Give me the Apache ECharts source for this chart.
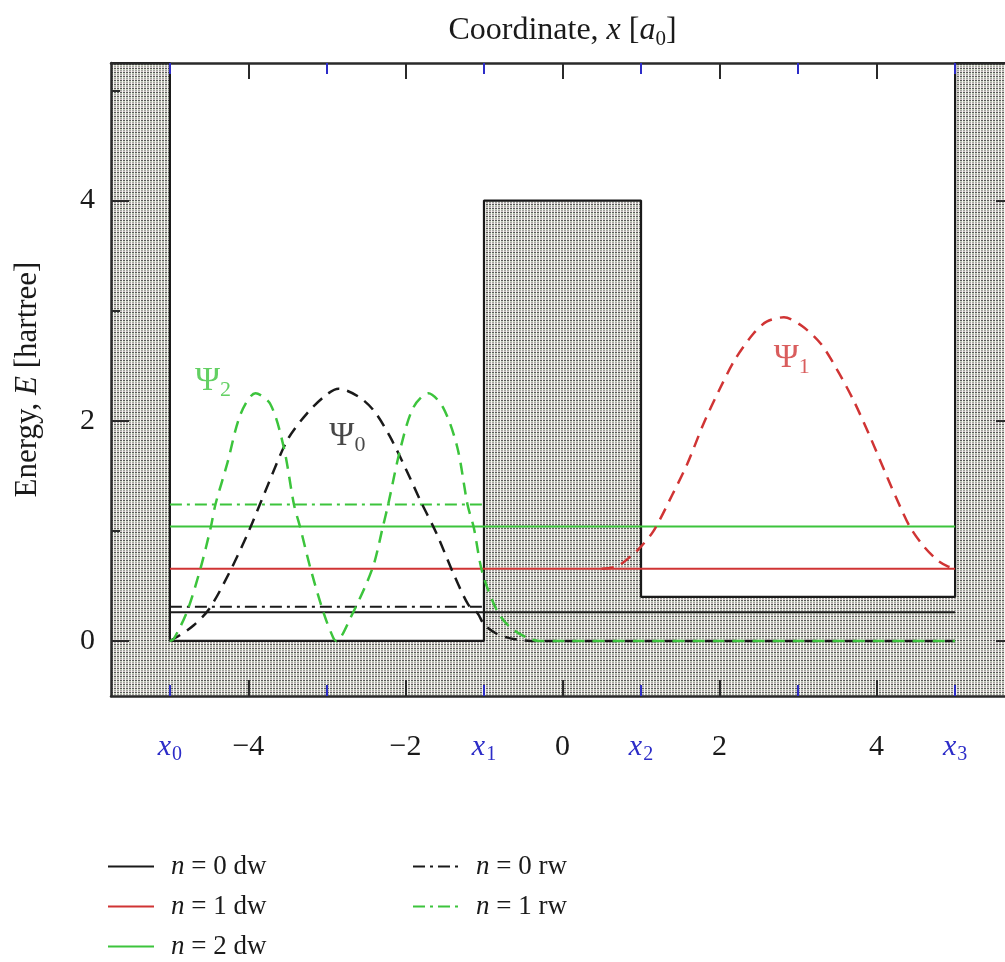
<!DOCTYPE html>
<html><head><meta charset="utf-8">
<script src="https://cdn.jsdelivr.net/npm/echarts@6/dist/echarts.min.js"></script>
<style>html,body{margin:0;padding:0;background:#fff}#c{width:1005px;height:962px}</style>
</head><body><div id="c"></div>
<script>
// ---------- data ----------
const xRange = [-5.75, 5.75];
const yRange = [-0.5, 5.25];
// potential profile (walls at x0..x3)
const potentialX = [-5.75, -5, -5, -1, -1, 1, 1, 5, 5, 5.75];
const potentialY = [5.25, 5.25, 0, 0, 4, 4, 0.4, 0.4, 5.25, 5.25];
// edges x0..x3
const edgeValues = [-5, -1, 1, 5];
const evenTicks = [-4, -2, 0, 2, 4];
const oddTicks = [-5, -3, -1, 1, 3, 5];
const xLabelValues = [-5, -4, -2, -1, 0, 1, 2, 4, 5];
const yMajor = [0, 2, 4];
const yMinor = [1, 3, 5];
// energy levels
const levelNames = ['n = 0 dw', 'n = 1 dw', 'n = 2 dw', 'n = 0 rw', 'n = 1 rw'];
const levelE = [0.26, 0.655, 1.04, 0.31, 1.24];
const levelFrom = [-5, -5, -5, -5, -5];
const levelTo = [5, 5, 5, -1, -1];
// wavefunctions
const psi0X = [-5.0, -4.9, -4.7, -4.5, -4.25, -4.0, -3.75, -3.5, -3.25, -3.0, -2.85, -2.6, -2.4, -2.2, -2.0, -1.8, -1.6, -1.4, -1.2, -1.08, -1.0, -0.85, -0.7, -0.55, -0.4, 0, 1, 2, 3, 4, 5];
const psi0Y = [0, 0.04, 0.14, 0.29, 0.61, 0.99, 1.42, 1.83, 2.07, 2.24, 2.29, 2.22, 2.09, 1.86, 1.57, 1.26, 0.97, 0.63, 0.33, 0.25, 0.15, 0.07, 0.03, 0.01, 0, 0, 0, 0, 0, 0, 0];
const psi2X = [-5.0, -4.95, -4.78, -4.61, -4.48, -4.42, -4.27, -4.10, -3.91, -3.72, -3.55, -3.42, -3.34, -3.21, -3.04, -2.92, -2.88, -2.70, -2.42, -2.29, -2.22, -2.06, -1.90, -1.71, -1.52, -1.34, -1.21, -1.13, -1.02, -0.83, -0.66, -0.45, -0.3, 0, 1, 2, 3, 4, 5];
const psi2Y = [0, 0.02, 0.27, 0.66, 1.03, 1.24, 1.61, 2.06, 2.25, 2.15, 1.76, 1.24, 1.03, 0.66, 0.25, 0.03, 0, 0.21, 0.66, 1.03, 1.24, 1.76, 2.12, 2.25, 2.12, 1.76, 1.24, 1.03, 0.62, 0.27, 0.12, 0.03, 0, 0, 0, 0, 0, 0, 0];
const psi1X = [0.5, 0.7, 0.87, 0.99, 1.16, 1.4, 1.59, 1.8, 2.01, 2.2, 2.43, 2.6, 2.82, 3.05, 3.29, 3.5, 3.71, 3.92, 4.14, 4.3, 4.43, 4.6, 4.78, 4.9, 5.0];
const psi1Y = [0.655, 0.68, 0.77, 0.85, 1.0, 1.33, 1.61, 1.98, 2.30, 2.56, 2.79, 2.90, 2.94, 2.86, 2.70, 2.46, 2.18, 1.85, 1.48, 1.22, 1.03, 0.86, 0.73, 0.68, 0.655];
const psiLabels = [
  {sym: 'Ψ', sub: '2', x: -4.45, y: 2.36, color: '#3cc43c'},
  {sym: 'Ψ', sub: '0', x: -2.74, y: 1.86, color: '#1a1a1a'},
  {sym: 'Ψ', sub: '1', x: 2.92, y: 2.57, color: '#d03434'}
];

// ---------- styles ----------
const BLACK = '#1a1a1a', RED = '#d03434', GREEN = '#3cc43c', BLUE = '#2c2cc8', FRAME = '#2a2a2a';
const FONT = 'Liberation Serif';
const levelColors = [BLACK, RED, GREEN, BLACK, GREEN];
const levelTypes = ['solid', 'solid', 'solid', [12, 5, 3, 5], [12, 5, 3, 5]];

function makeHatch() {
  const c = document.createElement('canvas'); c.width = 3; c.height = 4;
  const g = c.getContext('2d');
  g.fillStyle = '#e2e2dc'; g.fillRect(0, 0, 3, 4);
  g.fillStyle = '#f6f6f2'; g.fillRect(2, 0, 1, 4);
  g.fillStyle = '#5a5a5a'; g.fillRect(0, 0, 2, 1);
  g.fillStyle = '#a2a29e'; g.fillRect(0, 2, 2, 1);
  g.fillStyle = '#c8d0be'; g.fillRect(0, 1, 2, 1);
  g.fillStyle = '#d2c8c8'; g.fillRect(0, 3, 2, 1);
  return c;
}

const zip = (a, b) => a.map((v, i) => [v, b[i]]);

function xAxisDef(position, ticks, color, len, extra) {
  return Object.assign({
    type: 'value', position: position, min: xRange[0], max: xRange[1], z: 10, offset: 0,
    axisLine: {show: false, onZero: false},
    axisTick: {show: true, inside: true, length: len, customValues: ticks, lineStyle: {color: color, width: 2}},
    axisLabel: {show: false},
    splitLine: {show: false}
  }, extra || {});
}
function yAxisDef(position, ticks, len, extra) {
  return Object.assign({
    type: 'value', position: position, min: yRange[0], max: yRange[1], z: 10, offset: 0,
    axisLine: {show: false, onZero: false},
    axisTick: {show: true, inside: true, length: len, customValues: ticks, lineStyle: {color: FRAME, width: 2}},
    axisLabel: {show: false},
    splitLine: {show: false}
  }, extra || {});
}
const frameLine = {show: true, onZero: false, lineStyle: {color: FRAME, width: 2.5}};

const xAxes = [
  xAxisDef('bottom', evenTicks, FRAME, 16, {
    axisLine: frameLine,
    axisLabel: {
      show: true, customValues: xLabelValues, margin: 33,
      formatter: v => {
        const k = edgeValues.indexOf(v);
        if (k >= 0) return '{x|x}{s|' + k + '}';
        return '{n|' + (v < 0 ? '−' : '') + Math.abs(v) + '}';
      },
      rich: {
        x: {color: BLUE, fontStyle: 'italic', fontSize: 30, fontFamily: FONT, lineHeight: 36, verticalAlign: 'middle'},
        s: {color: BLUE, fontSize: 20, fontFamily: FONT, lineHeight: 36, verticalAlign: 'bottom', padding: [0, 0, 0, 1]},
        n: {color: BLACK, fontSize: 30, fontFamily: FONT, lineHeight: 36}
      }
    }
  }),
  xAxisDef('bottom', oddTicks, BLUE, 11),
  xAxisDef('top', evenTicks, FRAME, 16, {
    axisLine: frameLine,
    name: '{t|Coordinate, }{i|x}{t| [}{i|a}{s|0}{t|]}',
    nameLocation: 'middle', nameGap: 13,
    nameTextStyle: {
      rich: {
        t: {fontSize: 32, fontFamily: FONT, color: BLACK, lineHeight: 38},
        i: {fontSize: 32, fontFamily: FONT, color: BLACK, fontStyle: 'italic', lineHeight: 38},
        s: {fontSize: 21, fontFamily: FONT, color: BLACK, verticalAlign: 'bottom', lineHeight: 38}
      }
    }
  }),
  xAxisDef('top', oddTicks, BLUE, 11)
];
const yAxes = [
  yAxisDef('left', yMajor, 18, {
    axisLine: frameLine,
    axisLabel: {show: true, customValues: yMajor, margin: 16, fontSize: 30, fontFamily: FONT, color: BLACK},
    name: '{t|Energy, }{i|E}{t| [hartree]}',
    nameLocation: 'middle', nameGap: 68, nameRotate: 90,
    nameTextStyle: {
      rich: {
        t: {fontSize: 31, fontFamily: FONT, color: BLACK},
        i: {fontSize: 31, fontFamily: FONT, color: BLACK, fontStyle: 'italic'}
      }
    }
  }),
  yAxisDef('left', yMinor, 9),
  yAxisDef('right', yMajor, 18, {axisLine: frameLine}),
  yAxisDef('right', yMinor, 9)
];

const series = [];
series.push({
  name: 'potential', type: 'line', data: zip(potentialX, potentialY), symbol: 'none',
  lineStyle: {color: BLACK, width: 2.2}, z: 1, silent: true,
  areaStyle: {color: {image: makeHatch(), repeat: 'repeat'}, opacity: 1, origin: 'start'}
});
levelNames.forEach((nm, i) => {
  series.push({
    name: nm, type: 'line', symbol: 'none', z: 3,
    data: [[levelFrom[i], levelE[i]], [levelTo[i], levelE[i]]],
    lineStyle: {color: levelColors[i], width: 2, type: levelTypes[i]},
    itemStyle: {color: levelColors[i]}
  });
});
const dash = [12, 8];
series.push({name: 'Ψ0', type: 'line', symbol: 'none', z: 4, smooth: 0.3, data: zip(psi0X, psi0Y), lineStyle: {color: BLACK, width: 2.5, type: dash}});
series.push({name: 'Ψ2', type: 'line', symbol: 'none', z: 4, smooth: 0.3, data: zip(psi2X, psi2Y), lineStyle: {color: GREEN, width: 2.5, type: dash}});
series.push({name: 'Ψ1', type: 'line', symbol: 'none', z: 4, smooth: 0.3, data: zip(psi1X, psi1Y), lineStyle: {color: RED, width: 2.5, type: dash}});
series.push({
  name: 'labels', type: 'scatter', symbolSize: 0, z: 6, silent: true,
  data: psiLabels.map(p => ({
    value: [p.x, p.y],
    label: {
      show: true, position: 'inside',
      formatter: '{p|' + p.sym + '}{s|' + p.sub + '}',
      rich: {
        p: {fontSize: 34, fontFamily: FONT, color: p.color, lineHeight: 40},
        s: {fontSize: 22, fontFamily: FONT, color: p.color, verticalAlign: 'bottom', lineHeight: 40}
      }
    }
  }))
});

const legendText = {
  fontSize: 27, fontFamily: FONT, color: BLACK, padding: [0, 0, 0, 12],
  rich: {
    i: {fontSize: 27, fontFamily: FONT, color: BLACK, fontStyle: 'italic'},
    t: {fontSize: 27, fontFamily: FONT, color: BLACK}
  }
};
const legendFmt = n => '{i|n}{t|' + n.slice(1) + '}';
const legendCommon = {
  orient: 'vertical', top: 853, itemWidth: 46, itemHeight: 14, itemGap: 13, padding: 0,
  formatter: legendFmt, textStyle: legendText,
  itemStyle: {opacity: 0, borderWidth: 0}
};

const chart = echarts.init(document.getElementById('c'), null, {renderer: 'canvas'});
chart.setOption({
  backgroundColor: '#fff',
  animation: false,
  grid: {left: 111, top: 63, right: -9, bottom: 266, containLabel: false, outerBoundsMode: 'none'},
  xAxis: xAxes,
  yAxis: yAxes,
  legend: [
    Object.assign({data: levelNames.slice(0, 3), left: 107}, legendCommon),
    Object.assign({data: levelNames.slice(3), left: 412}, legendCommon)
  ],
  series: series
});
</script>
</body></html>
